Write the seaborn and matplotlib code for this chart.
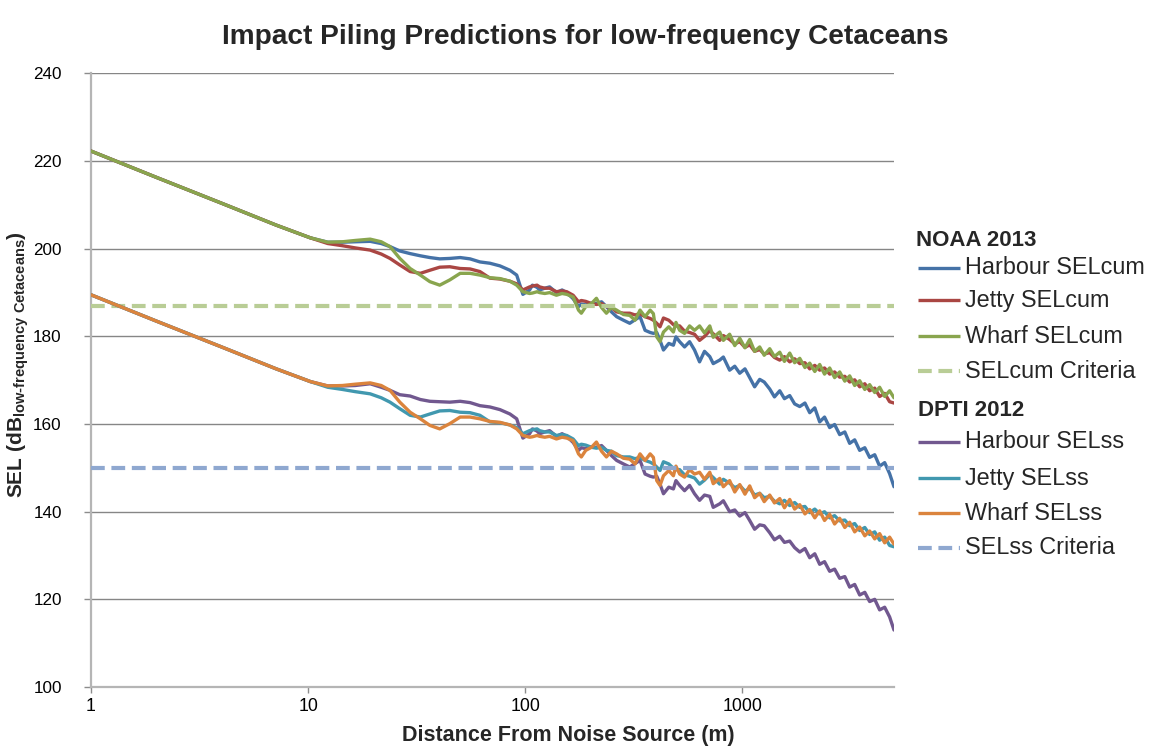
import numpy as np
import pandas as pd
import matplotlib
matplotlib.use("Agg")
import matplotlib.pyplot as plt
from matplotlib.lines import Line2D
import seaborn as sns

# ---------------- data ----------------
distance_m = [1, 2, 4.04, 7.13, 10.24, 12.32, 14.4, 16.49, 19.32, 21.73,
              23.84, 26.46, 29.52, 32.9, 36.38, 40.41, 44.97, 50.18, 55.73, 61.88,
              68.82, 76.5, 85.06, 91.4, 97.62, 104.8, 108.0, 113.4, 116.6, 123.1,
              129.6, 139.3, 147.9, 155.5, 166.3, 176.1, 181.4, 190.1, 202.0, 212.9,
              224.8, 236.7, 249.8, 263.9, 283.6, 303.2, 320.7, 338.1, 356.7, 376.4,
              389.5, 403.7, 418.0, 433.5, 458.7, 481.7, 494.9, 514.7, 542.2, 571.9,
              602.7, 635.8, 669.9, 708.5, 735.0, 787.3, 818.2, 874.6, 923.4, 973.3,
              1029, 1082, 1140, 1203, 1262, 1338, 1407, 1488, 1564, 1654,
              1743, 1840, 1944, 2045, 2158, 2273, 2393, 2527, 2663, 2810,
              2967, 3124, 3295, 3474, 3668, 3861, 4075, 4293, 4529, 4772,
              5000]

harbour_selcum = [222.3, 216.3, 210.3, 205.4, 202.5, 201.5, 201.5, 201.6, 201.7, 201.2,
                  200.5, 199.5, 198.9, 198.4, 198.0, 197.7, 197.8, 198.0, 197.7, 197.0,
                  196.7, 196.1, 195.1, 194.0, 189.6, 190.6, 191.7, 191.2, 190.6, 191.0,
                  191.3, 190.0, 190.6, 190.0, 188.6, 186.8, 187.4, 187.2, 187.6, 187.5,
                  187.9, 186.8, 185.6, 184.5, 183.7, 183.0, 183.8, 184.5, 181.4, 180.9,
                  180.7, 180.9, 179.1, 176.9, 178.4, 178.0, 179.9, 178.8, 177.6, 178.8,
                  176.9, 174.2, 176.6, 175.4, 173.8, 174.6, 175.3, 172.3, 173.2, 171.6,
                  172.6, 170.6, 168.5, 170.2, 169.6, 168.0, 166.2, 167.6, 165.8, 166.5,
                  164.6, 164.0, 164.8, 162.6, 163.7, 160.5, 161.6, 159.2, 159.9, 157.6,
                  158.2, 155.6, 156.4, 154.0, 154.6, 152.4, 153.0, 150.4, 151.2, 148.7,
                  145.7]

jetty_selcum = [222.3, 216.3, 210.3, 205.4, 202.5, 201.2, 200.7, 200.2, 199.7, 198.8,
                197.8, 196.3, 194.8, 194.4, 195.1, 195.8, 195.9, 195.5, 195.4, 194.8,
                193.3, 193.1, 192.6, 192.0, 190.6, 191.3, 191.5, 191.7, 191.3, 191.0,
                191.0, 190.2, 190.4, 190.2, 189.4, 187.9, 188.2, 188.0, 187.5, 187.3,
                187.5, 186.8, 186.6, 185.6, 185.3, 185.3, 184.9, 185.2, 184.5, 184.1,
                183.7, 183.0, 182.2, 184.2, 183.7, 182.7, 182.4, 182.4, 181.2, 180.9,
                180.5, 179.1, 180.0, 181.3, 180.6, 179.1, 180.2, 179.3, 178.3, 178.8,
                177.5, 178.1, 176.6, 177.0, 176.0, 176.3, 175.2, 174.6, 175.4, 174.2,
                174.9, 173.8, 174.0, 172.6, 173.4, 172.3, 172.8, 171.4, 171.9, 170.7,
                170.9, 169.6, 170.1, 168.5, 169.2, 167.6, 168.2, 166.3, 167.0, 165.1,
                164.8]

wharf_selcum = [222.3, 216.3, 210.3, 205.4, 202.5, 201.5, 201.6, 201.9, 202.2, 201.6,
                200.5, 197.8, 195.5, 194.0, 192.5, 191.7, 192.9, 194.4, 194.4, 194.0,
                193.4, 193.2, 192.6, 191.7, 190.2, 189.8, 189.9, 190.2, 190.0, 189.8,
                190.0, 189.4, 189.8, 189.6, 189.0, 186.0, 185.3, 186.8, 187.5, 188.7,
                186.6, 185.3, 186.6, 186.0, 185.0, 184.8, 183.7, 186.0, 184.5, 186.0,
                185.2, 179.9, 178.8, 181.0, 182.2, 181.0, 183.2, 181.4, 180.7, 182.4,
                181.4, 182.4, 180.8, 182.4, 179.8, 181.0, 179.1, 180.5, 177.9, 179.6,
                177.4, 179.3, 176.6, 177.6, 175.7, 177.2, 175.4, 176.4, 174.3, 176.2,
                174.0, 175.0, 172.9, 173.9, 172.0, 173.6, 171.4, 172.8, 170.6, 171.9,
                169.8, 171.0, 168.8, 169.9, 167.9, 169.0, 167.2, 168.4, 166.3, 167.6,
                166.0]

harbour_selss = [189.5, 183.5, 177.5, 172.6, 169.7, 168.7, 168.7, 168.8, 169.2, 168.4,
                 167.7, 166.7, 166.4, 165.6, 165.2, 165.1, 165.0, 165.2, 164.9, 164.2,
                 163.9, 163.3, 162.3, 161.2, 156.8, 157.8, 158.9, 158.4, 157.8, 158.2,
                 158.5, 157.2, 157.8, 157.2, 155.8, 154.0, 154.6, 154.4, 154.8, 154.7,
                 155.1, 154.0, 152.8, 151.7, 150.9, 150.2, 151.0, 151.7, 148.6, 148.1,
                 147.9, 148.1, 146.3, 144.1, 145.6, 145.2, 147.1, 146.0, 144.8, 146.0,
                 144.1, 142.6, 143.8, 143.5, 141.0, 141.8, 142.5, 140.0, 140.4, 139.0,
                 139.8, 138.0, 136.0, 137.0, 136.8, 135.2, 133.6, 134.4, 133.0, 133.3,
                 131.8, 130.8, 131.6, 129.5, 130.4, 128.0, 128.6, 126.4, 126.9, 124.8,
                 125.2, 122.8, 123.4, 121.0, 121.6, 119.5, 120.0, 117.6, 118.2, 116.0,
                 113.0]

jetty_selss = [189.5, 183.5, 177.5, 172.6, 169.7, 168.4, 167.9, 167.4, 166.9, 166.0,
               165.0, 163.5, 162.0, 161.6, 162.3, 163.0, 163.1, 162.7, 162.6, 162.0,
               160.5, 160.3, 159.8, 159.2, 157.8, 158.5, 158.7, 158.9, 158.5, 158.2,
               158.2, 157.4, 157.6, 157.4, 156.6, 155.1, 155.4, 155.2, 154.7, 154.5,
               154.7, 154.0, 153.8, 152.8, 152.5, 152.5, 152.1, 152.4, 151.7, 151.3,
               150.9, 150.2, 149.4, 151.4, 150.9, 149.9, 149.6, 149.6, 148.4, 148.1,
               147.7, 146.3, 147.2, 148.5, 147.8, 146.3, 147.4, 146.5, 145.5, 146.0,
               144.7, 145.3, 143.8, 144.2, 143.2, 143.5, 142.4, 141.8, 142.6, 141.4,
               142.1, 141.0, 141.2, 139.8, 140.6, 139.5, 140.0, 138.6, 139.1, 137.9,
               138.1, 136.8, 137.3, 135.7, 136.4, 134.8, 135.4, 133.5, 134.2, 132.3,
               132.0]

wharf_selss = [189.5, 183.5, 177.5, 172.6, 169.7, 168.7, 168.8, 169.1, 169.4, 168.8,
               167.7, 165.0, 162.7, 161.2, 159.7, 158.9, 160.1, 161.6, 161.6, 161.2,
               160.6, 160.4, 159.8, 158.9, 157.4, 157.0, 157.1, 157.4, 157.2, 157.0,
               157.2, 156.6, 157.0, 156.8, 156.2, 153.2, 152.5, 154.0, 154.7, 155.9,
               153.8, 152.5, 153.8, 153.2, 152.2, 152.0, 150.9, 153.2, 151.7, 153.2,
               152.4, 147.1, 146.0, 148.2, 149.4, 148.2, 150.4, 148.6, 147.9, 149.6,
               148.6, 149.0, 147.4, 149.0, 146.4, 147.6, 145.7, 147.1, 144.5, 146.2,
               144.0, 145.9, 143.2, 144.2, 142.3, 143.8, 142.0, 143.0, 140.9, 142.8,
               140.6, 141.6, 139.5, 140.5, 138.6, 140.2, 138.0, 139.4, 137.2, 138.5,
               136.4, 137.6, 135.4, 136.5, 134.5, 135.6, 133.8, 135.0, 132.9, 134.2,
               132.6]

criteria_selcum = 187.0
criteria_selss = 150.0

group_titles = ["NOAA 2013", "DPTI 2012"]
noaa_names = ["Harbour SELcum", "Jetty SELcum", "Wharf SELcum", "SELcum Criteria"]
dpti_names = ["Harbour SELss", "Jetty SELss", "Wharf SELss", "SELss Criteria"]

x_ticks = [1, 10, 100, 1000]
x_tick_labels = ["1", "10", "100", "1000"]
x_max = 5000
y_ticks = [100, 120, 140, 160, 180, 200, 220, 240]

# ---------------- styling ----------------
colors = {
    "Harbour SELcum": "#4572A7",
    "Jetty SELcum": "#AA4643",
    "Wharf SELcum": "#89A54E",
    "SELcum Criteria": "#B9CD96",
    "Harbour SELss": "#71588F",
    "Jetty SELss": "#4198AF",
    "Wharf SELss": "#DB843D",
    "SELss Criteria": "#8FA8D0",
}

sns.set_theme(style="white")
plt.rcParams["font.family"] = ["Liberation Sans", "DejaVu Sans"]
plt.rcParams["mathtext.fontset"] = "custom"
plt.rcParams["mathtext.rm"] = "Liberation Sans"
plt.rcParams["mathtext.bf"] = "Liberation Sans:bold"

W, H = 1153, 753
fig = plt.figure(figsize=(W / 100, H / 100), dpi=100)
fig.patch.set_facecolor("white")
ax = fig.add_axes([91 / W, 1 - 687 / H, (894 - 91) / W, (687 - 73.5) / H])

series_data = {
    "Harbour SELcum": harbour_selcum,
    "Jetty SELcum": jetty_selcum,
    "Wharf SELcum": wharf_selcum,
    "Harbour SELss": harbour_selss,
    "Jetty SELss": jetty_selss,
    "Wharf SELss": wharf_selss,
}
frames = []
for name, vals in series_data.items():
    frames.append(pd.DataFrame({"distance": distance_m, "SEL": vals, "series": name}))
df = pd.concat(frames, ignore_index=True)

LW = 2.4
CRIT_LW = 3.0
CRIT_DASH = (3.3, 1.6)

z = 3
for name in noaa_names[:3]:
    sns.lineplot(data=df[df["series"] == name], x="distance", y="SEL",
                 color=colors[name], linewidth=LW, estimator=None, sort=False,
                 ax=ax, zorder=z)
    z += 1
ax.axhline(criteria_selcum, color=colors["SELcum Criteria"], linewidth=CRIT_LW,
           dashes=CRIT_DASH, zorder=z)
z += 1
for name in dpti_names[:3]:
    sns.lineplot(data=df[df["series"] == name], x="distance", y="SEL",
                 color=colors[name], linewidth=LW, estimator=None, sort=False,
                 ax=ax, zorder=z)
    z += 1
ax.axhline(criteria_selss, color=colors["SELss Criteria"], linewidth=CRIT_LW,
           dashes=CRIT_DASH, zorder=z)

ax.set_xscale("log")
ax.set_xlim(distance_m[0], x_max)
ax.set_ylim(100, 240)
ax.set_yticks(y_ticks)
ax.set_yticklabels([str(v) for v in y_ticks])
ax.set_xticks(x_ticks)
ax.set_xticklabels(x_tick_labels)
ax.xaxis.set_minor_locator(matplotlib.ticker.NullLocator())
ax.set_xlabel("")
ax.set_ylabel("")

ax.yaxis.grid(True, color="#868686", linewidth=1.0)
ax.xaxis.grid(False)
ax.set_axisbelow(True)
for s in ["top", "right"]:
    ax.spines[s].set_visible(False)
for s in ["left", "bottom"]:
    ax.spines[s].set_color("#B5B5B5")
    ax.spines[s].set_linewidth(1.6)
ax.tick_params(axis="y", left=True, direction="out", length=5, width=1,
               color="#8C8C8C", pad=16, labelsize=12.3, labelcolor="black")
ax.tick_params(axis="x", bottom=True, direction="out", length=4, width=1,
               color="#8C8C8C", pad=4, labelsize=12.8, labelcolor="black")

# ---------------- texts ----------------
def fx(px):
    return px / W

def fy(py):
    return 1 - py / H

fig.text(fx(585), fy(37), "Impact Piling Predictions for low-frequency Cetaceans",
         ha="center", va="center", fontsize=20.2, fontweight="bold")
fig.text(fx(568), fy(736), "Distance From Noise Source (m)",
         ha="center", va="center", fontsize=15.5, fontweight="bold")
fig.text(fx(18), fy(365),
         "SEL (dB$_{\\mathbf{low\u2010frequency\\ Cetaceans}}$)",
         ha="center", va="center", rotation=90, fontsize=15, fontweight="bold")

# ---------------- legend ----------------
rows = [("h", group_titles[0], 240, 916)]
for name, yy in zip(noaa_names, [268, 300, 336, 371]):
    rows.append(("e", name, yy, None))
rows.append(("h", group_titles[1], 411, 918))
for name, yy in zip(dpti_names, [442, 478, 513, 548]):
    rows.append(("e", name, yy, None))

for kind, label, yy, xx in rows:
    if kind == "h":
        fig.text(fx(xx), fy(yy), label, ha="left", va="center",
                 fontsize=16, fontweight="bold")
    else:
        is_crit = "Criteria" in label
        ln = Line2D([fx(918), fx(960)], [fy(yy), fy(yy)], transform=fig.transFigure,
                    color=colors[label], linewidth=CRIT_LW if is_crit else LW,
                    solid_capstyle="butt")
        if is_crit:
            ln.set_dashes(CRIT_DASH)
        fig.add_artist(ln)
        fig.text(fx(965), fy(yy), label, ha="left", va="center", fontsize=16.8)

fig.savefig("out.png", dpi=100, facecolor="white")
